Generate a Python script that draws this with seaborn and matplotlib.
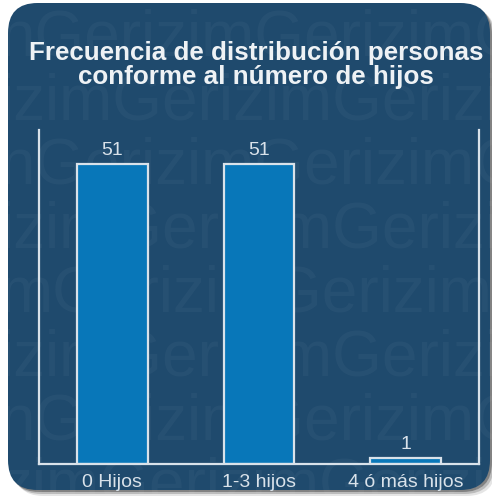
import matplotlib
matplotlib.use('Agg')
import matplotlib.pyplot as plt
from matplotlib.patches import FancyBboxPatch
import seaborn as sns
import pandas as pd

# chart data
categories = ['0 Hijos', '1-3 hijos', '4 ó más hijos']
counts = [51, 51, 1]
title = 'Frecuencia de distribución personas\nconforme al número de hijos'

bg = '#1f4a6d'
bar_color = '#0877b9'
light = '#d9e2ea'

sns.set_style('white')
plt.rcParams['font.family'] = ['Liberation Sans', 'DejaVu Sans']

fig = plt.figure(figsize=(4.92, 4.99), dpi=100)
fig.patch.set_facecolor('white')

W, H = 492.0, 499.0
# shadow + rounded panel
for off, a in [(6, 0.10), (4, 0.18), (2, 0.30)]:
    sh = FancyBboxPatch(((8 + off) / W, (H - 490 - off) / H), (482) / W, (487) / H,
                        boxstyle='round,pad=0,rounding_size=0.06',
                        transform=fig.transFigure, facecolor='black', alpha=a,
                        edgecolor='none', zorder=0)
    fig.patches.append(sh)
panel = FancyBboxPatch((8 / W, (H - 490) / H), 482 / W, 487 / H,
                       boxstyle='round,pad=0,rounding_size=0.06',
                       transform=fig.transFigure, facecolor=bg, edgecolor='none', zorder=1)
fig.patches.append(panel)

# faint watermark rows
rows = ['nGerizimGerizimGerizim', 'izimGerizimGerizimG', 'nGerizimGerizimGeri',
        'izimGerizimGerizimG', 'mGerizimGerizimGeri', 'izimGerizimGerizimG',
        'nGerizimGerizimGeri', 'zimGerizimGerizim']
for i, r in enumerate(rows):
    t = fig.text(0.0, 1 - (38 + i * 64) / H, r, fontsize=46, color='white', alpha=0.035,
                 va='center', ha='left', family='Liberation Sans', zorder=2)
    t.set_clip_path(panel)

ax = fig.add_axes([39 / W, 1 - 464 / H, 440 / W, 334 / H])
ax.set_zorder(5)
ax.set_facecolor('none')
df = pd.DataFrame({'cat': categories, 'n': counts})
sns.barplot(data=df, x='cat', y='n', ax=ax, color=bar_color, width=0.48,
            edgecolor=light, linewidth=1.6, saturation=1)
ax.set_ylim(0, 56.8)
ax.set_xlim(-0.5, 2.5)
for p, v in zip(ax.patches, counts):
    ax.annotate(str(v), (p.get_x() + p.get_width() / 2, p.get_height()),
                xytext=(0, 4), textcoords='offset points', ha='center', va='bottom',
                color=light, fontsize=14)
ax.set_xlabel('')
ax.set_ylabel('')
ax.set_yticks([])
ax.tick_params(axis='x', length=0, colors=light, labelsize=14, pad=7)
for s in ['left', 'right', 'bottom']:
    ax.spines[s].set_color(light)
    ax.spines[s].set_linewidth(1.6)
ax.spines['top'].set_visible(False)

fig.text(256 / W, 1 - 65 / H, title, ha='center', va='center', color='#eef2f5',
         fontsize=18.7, fontweight='bold', linespacing=1.05, zorder=6)

fig.savefig('out.png', dpi=100, facecolor=fig.get_facecolor())
